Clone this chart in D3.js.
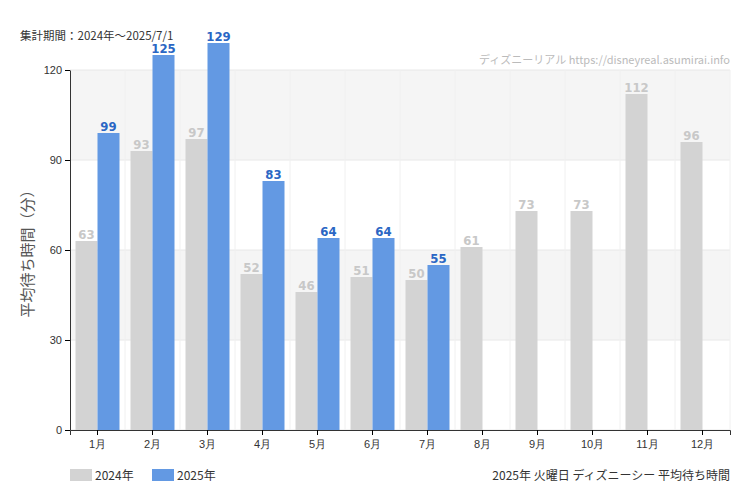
<!DOCTYPE html>
<html><head><meta charset="utf-8">
<script src="https://cdn.jsdelivr.net/npm/d3@7"></script>
<style>body{margin:0;background:#fff;font-family:"Noto Sans CJK JP","Noto Sans",sans-serif}</style>
</head><body><svg id="c" width="750" height="500"></svg>
<script>
var months = ["1月","2月","3月","4月","5月","6月","7月","8月","9月","10月","11月","12月"];
var wait2024 = [63,93,97,52,46,51,50,61,73,73,112,96];
var wait2025 = [99,125,129,83,64,64,55,null,null,null,null,null];
var yTicks = [0,30,60,90,120];

var svg = d3.select("#c");
var x = d3.scaleBand().domain(months).range([70,730]);
var y = d3.scaleLinear().domain([0,120]).range([430,70]);
var bw = 22, pad = (x.bandwidth() - 2*bw)/2;
var narrow = "'Liberation Sans Narrow','DejaVu Sans Condensed',sans-serif";

// background bands
[[90,120],[30,60]].forEach(b => {
    svg.append("rect").attr("x",70).attr("width",660)
        .attr("y",y(b[1])).attr("height",y(b[0])-y(b[1])).attr("fill","#f5f5f5");
});
svg.selectAll(".hg").data(yTicks).enter().append("line")
    .attr("x1",70).attr("x2",730).attr("y1",d=>y(d)).attr("y2",d=>y(d))
    .attr("stroke","#e8e8e8");
svg.selectAll(".vg").data(months).enter().append("line")
    .attr("x1",d=>x(d)+x.bandwidth()).attr("x2",d=>x(d)+x.bandwidth())
    .attr("y1",70).attr("y2",430).attr("stroke","#f0f0f0");

var g24 = svg.append("g"), g25 = svg.append("g");
g24.selectAll("rect").data(wait2024).enter().append("rect")
    .attr("x",(d,i)=>x(months[i])+pad).attr("width",bw)
    .attr("y",d=>y(d)).attr("height",d=>430-y(d)).attr("fill","#d3d3d3");
g24.selectAll("text").data(wait2024).enter().append("text")
    .attr("x",(d,i)=>x(months[i])+pad+bw/2).attr("y",d=>y(d)-2)
    .attr("text-anchor","middle").attr("font-size",13).attr("fill","#c8c8c8")
    .attr("font-family",narrow).attr("font-weight","bold").text(d=>d);
var d25 = wait2025.map((v,i)=>({v:v,m:months[i]})).filter(d=>d.v!=null);
g25.selectAll("rect").data(d25).enter().append("rect")
    .attr("x",d=>x(d.m)+pad+bw).attr("width",bw)
    .attr("y",d=>y(d.v)).attr("height",d=>430-y(d.v)).attr("fill","#6399e3");
g25.selectAll("text").data(d25).enter().append("text")
    .attr("x",d=>x(d.m)+pad+bw*1.5).attr("y",d=>y(d.v)-2)
    .attr("text-anchor","middle").attr("font-size",13).attr("fill","#2a66c4")
    .attr("font-family",narrow).attr("font-weight","bold").text(d=>d.v);

var ax = svg.append("g").attr("transform","translate(0,430)")
    .call(d3.axisBottom(x).tickSizeOuter(0).tickSize(5));
ax.select(".domain").attr("stroke","#333");
ax.selectAll("text").attr("font-size",11).attr("fill","#333").attr("dy","0.9em");
var ay = svg.append("g").attr("transform","translate(70,0)")
    .call(d3.axisLeft(y).tickValues(yTicks).tickSize(5).tickSizeOuter(0));
ay.select(".domain").attr("stroke","#333");
ay.selectAll("text").attr("font-size",11).attr("fill","#333");

svg.append("text").attr("x",20).attr("y",40).attr("font-size",11.5).attr("fill","#333")
    .text("集計期間：2024年～2025/7/1");
svg.append("text").attr("x",730).attr("y",64).attr("text-anchor","end")
    .attr("font-size",11).attr("fill","#bbb").text("ディズニーリアル https://disneyreal.asumirai.info");
svg.append("text").attr("transform","translate(33,250) rotate(-90)")
    .attr("text-anchor","middle").attr("font-size",15).attr("fill","#555")
    .text("平均待ち時間（分）");

[["#d3d3d3","2024年",70],["#6399e3","2025年",152]].forEach(l => {
    svg.append("rect").attr("x",l[2]).attr("y",469).attr("width",22).attr("height",12).attr("fill",l[0]);
    svg.append("text").attr("x",l[2]+25).attr("y",480).attr("font-size",12).attr("fill","#333").text(l[1]);
});
svg.append("text").attr("x",730).attr("y",480).attr("text-anchor","end")
    .attr("font-size",12).attr("fill","#333").text("2025年 火曜日 ディズニーシー 平均待ち時間");
</script></body></html>
